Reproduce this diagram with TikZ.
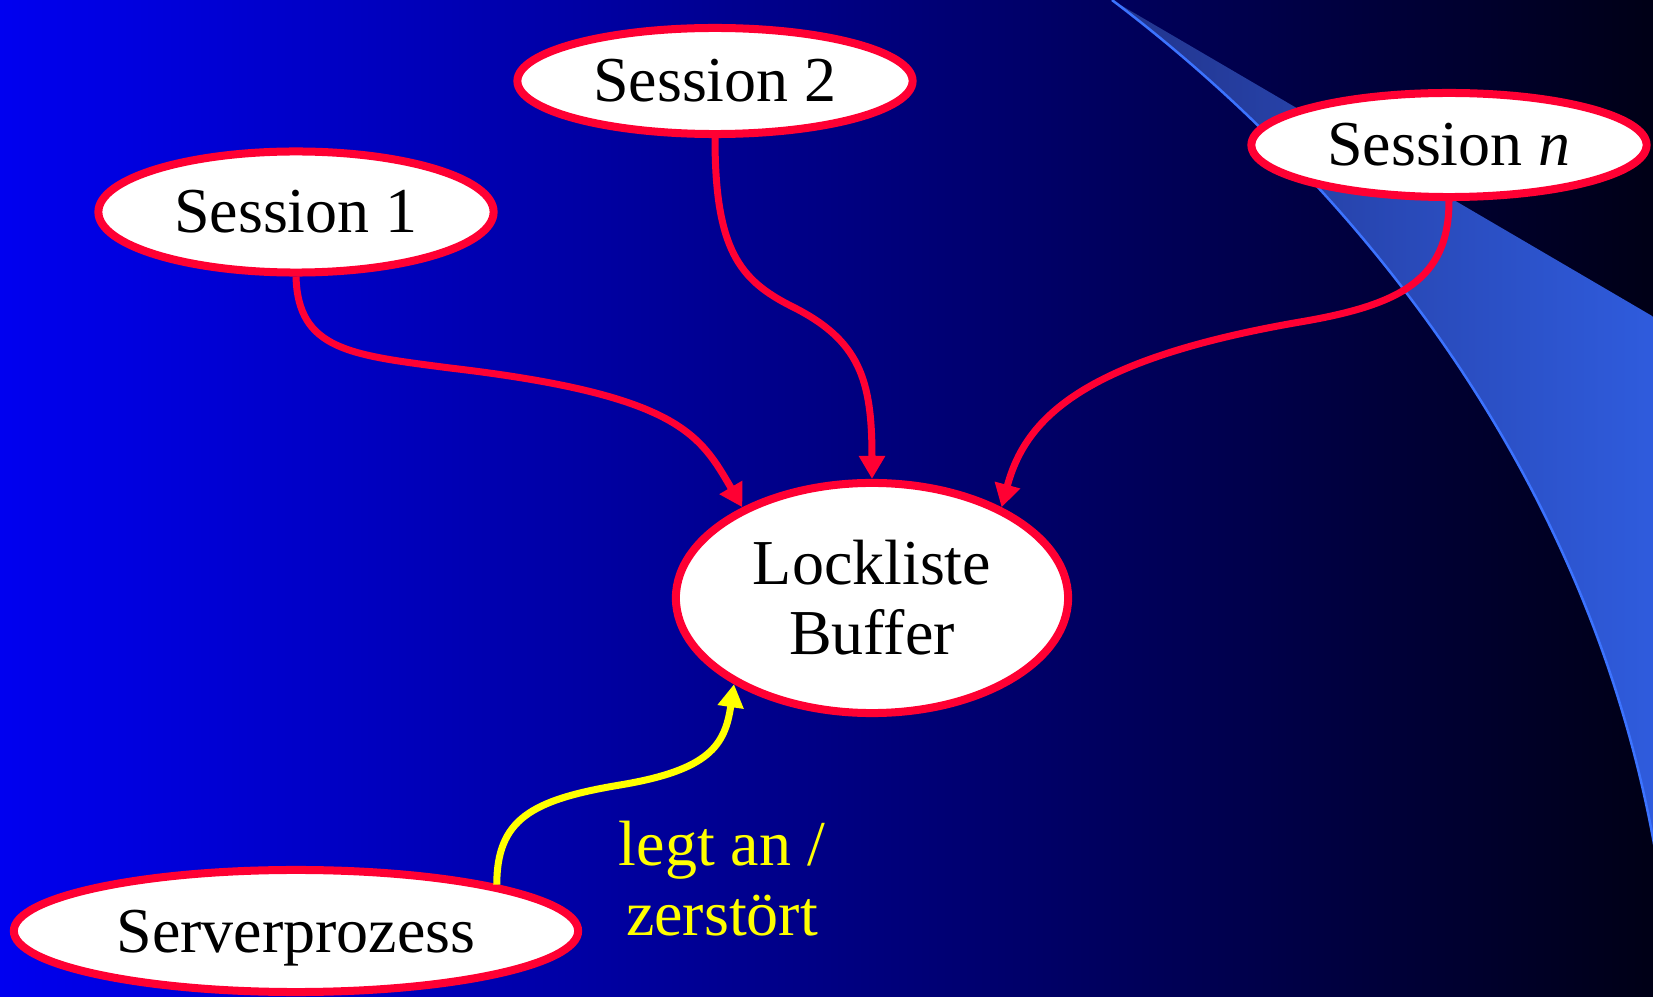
\documentclass[tikz,border=0pt]{standalone}
\usepackage{fontspec}
\setmainfont{Liberation Serif}
\usetikzlibrary{shapes.geometric,arrows.meta}
\definecolor{redline}{RGB}{255,0,51}
\definecolor{bgleft}{RGB}{0,0,240}
\definecolor{bgright}{RGB}{0,0,22}
\definecolor{swl}{RGB}{34,52,140}
\definecolor{swr}{RGB}{48,95,228}
\definecolor{swedge}{RGB}{60,115,255}
\definecolor{lblyellow}{RGB}{255,255,0}
\begin{document}
\begin{tikzpicture}[x=0.01cm,y=-0.01cm,
  sess/.style={ellipse, draw=redline, line width=0.08cm, fill=white, inner sep=0pt,
    font=\fontsize{18.2}{19.9}\selectfont, text=black},
  conn/.style={draw=redline, line width=0.07cm, -{Triangle[length=0.23cm,width=0.25cm]}},
  yconn/.style={draw=lblyellow, line width=0.07cm, -{Triangle[length=0.23cm,width=0.25cm]}},
  lbl/.style={text=lblyellow, font=\fontsize{18.2}{19.9}\selectfont, align=center, inner sep=0pt}
]
\useasboundingbox (0,0) rectangle (1653,997);
\shade[left color=bgleft, right color=bgright] (0,0) rectangle (1653,997);
\begin{scope}
\clip (0,0) rectangle (1653,997);
\shade[left color=swl, right color=swr] (1112,0) -- (1700,344) -- (1700,900) -- (1660,880)
  .. controls (1600,480) and (1350,180) .. (1112,0) -- cycle;
\draw[swedge, line width=0.025cm] (1112,0) .. controls (1350,180) and (1600,480) .. (1660,880);
\end{scope}

\node[sess, minimum width=3.95cm, minimum height=1.21cm] (s1) at (296,212) {Session 1};
\node[sess, minimum width=3.95cm, minimum height=1.06cm] (s2) at (715,81) {Session 2};
\node[sess, minimum width=3.95cm, minimum height=1.04cm] (sn) at (1449,145) {Session \textit{n}};
\node[sess, minimum width=3.92cm, minimum height=2.30cm, align=center] (lock) at (872,598) {Lockliste\\Buffer};
\node[sess, minimum width=5.64cm, minimum height=1.22cm, text depth=0pt] (srv) at (296,931) {Serverprozess};
\node[lbl] (label) at (722,879) {legt an /\\zerstört};

\draw[conn] (s1.south) .. controls (298,350) and (350,355) .. (450,368)
  .. controls (680,395) and (700,435) .. (lock.145);
\draw[conn] (s2.south) .. controls (715,250) and (740,280) .. (791,306)
  .. controls (860,340) and (872,380) .. (lock.north);
\draw[conn] (sn.south) .. controls (1449,280) and (1400,305) .. (1300,322)
  .. controls (1080,360) and (1025,420) .. (lock.35);
\draw[yconn] (srv.13) .. controls (497,820) and (530,800) .. (620,785)
  .. controls (710,770) and (725,745) .. (lock.212);
\end{tikzpicture}
\end{document}
